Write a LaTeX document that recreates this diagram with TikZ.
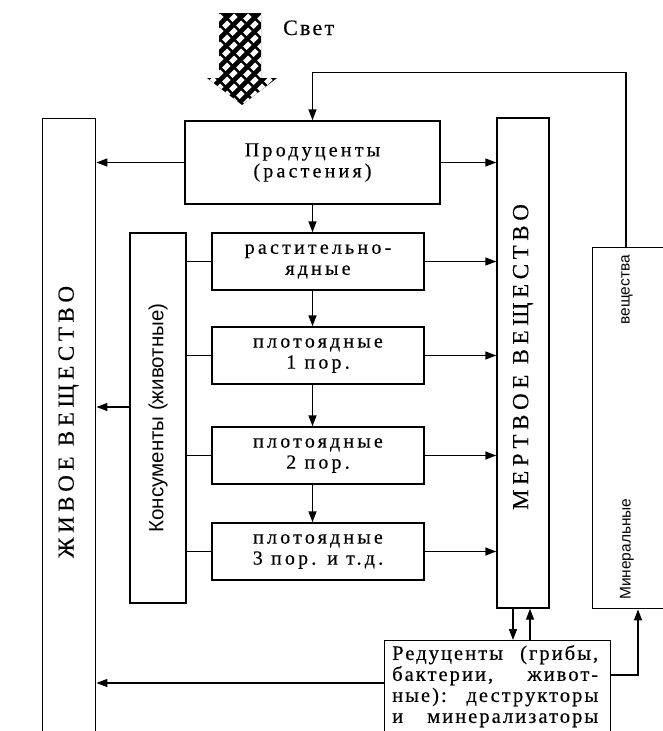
\documentclass[tikz,border=0pt]{standalone}
\usepackage{fontspec}
\setmainfont{Liberation Serif}
\setsansfont{Liberation Sans}
\usetikzlibrary{positioning,arrows.meta,calc}
\newcommand{\boxfont}{\fontsize{20}{21}\selectfont\addfontfeature{LetterSpace=16,FakeBold=0.4}}
\newcommand{\litefont}{\fontsize{22}{22}\selectfont\addfontfeature{LetterSpace=10,FakeBold=0.4}}
\newcommand{\redfont}{\fontsize{20.5}{21}\selectfont\addfontfeature{LetterSpace=10,FakeBold=0.4}}
\newcommand{\capsfont}{\fontsize{23}{23}\selectfont\addfontfeature{LetterSpace=20,FakeBold=0.3}}
\newcommand{\labfont}{\sffamily\fontsize{20.5}{20.5}\selectfont}
\newcommand{\minfont}{\sffamily\fontsize{15.5}{15.5}\selectfont}
\tikzset{
  box/.style   ={draw, line width=1.4pt, inner sep=0pt},
  level/.style ={box, minimum width=212, minimum height=57, align=center, font=\boxfont},
  spaced/.style={inner sep=0pt, font=\capsfont, rotate=90},
  sanslab/.style={inner sep=0pt, font=\labfont, rotate=90},
  minlab/.style={inner sep=0pt, font=\minfont, rotate=90},
  flow/.style  ={line width=1.4pt, -{Triangle[length=11pt,width=8pt]}},
  link/.style  ={line width=1.4pt},
}
\begin{document}
\begin{tikzpicture}[x=1pt,y=-1pt]
\useasboundingbox (0,0) rectangle (663,731);
\clip (0,0) rectangle (663,731);
\fill[white] (0,0) rectangle (663,731);
% light
\begin{scope}
  \clip (219,13) -- (261,13) -- (261,78) -- (277,78) -- (242,105)
        -- (207,78) -- (219,78) -- cycle;
  \fill (200,0) rectangle (290,110);
  \foreach \j in {0,...,14}{
    \foreach \i in {0,...,6}{
      \pgfmathsetmacro\cx{205+14*\i+7*mod(\j,2)}
      \pgfmathsetmacro\cy{18+7*\j}
      \fill[white] (\cx,\cy) ++(1,-4.5) -- ++(3.5,3.5) -- ++(-5,5) -- ++(-3.5,-3.5) -- cycle;
    }
  }
\end{scope}
\node[anchor=base west, inner sep=0pt, font=\litefont] (light) at (283,35) {Свет};
% living matter
\node[box, minimum width=53, minimum height=660, anchor=north west] (zhiv) at (42,118) {};
\node[spaced] (zhivtxt) at (68.5,422) {ЖИВОЕ ВЕЩЕСТВО};
% producers and consumers
\node[box, minimum width=255, minimum height=83, align=center, font=\boxfont] (prod)
  at (312.5,162.5) {Продуценты\\(растения)};
\node[box, minimum width=56, minimum height=370] (kons) at (158,418) {};
\node[sanslab] (konstxt) at (kons.center) {Консументы (животные)};
\node[level] (rast)  at (318,261.5) {растительно-\\ядные};
\node[level] (carn1) at (318,355.5) {плотоядные\\1 пор.};
\node[level] (carn2) at (318,455.5) {плотоядные\\2 пор.};
\node[level] (carn3) at (318,551.5) {плотоядные\\3 пор. и т.д.};
% dead matter
\node[box, minimum width=52, minimum height=490] (dead) at (523,363) {};
\node[spaced] (deadtxt) at (523,357) {МЕРТВОЕ ВЕЩЕСТВО};
% mineral substances
\node[box, anchor=north west, minimum width=120, minimum height=361] (mineral) at (592,247) {};
\node[minlab, anchor=west] (mintxt) at (627,600) {Минеральные};
\node[minlab, anchor=east] (mintxtb) at (627,255) {вещества};
% decomposers
\node[box, anchor=north west, minimum width=226, minimum height=120] (red) at (384,640) {};
\node[anchor=north west, inner sep=0pt, align=left, font=\redfont] (redtxt) at (392,645)
  {\hbox to 206pt{Редуценты\hfill(грибы,}\\
   \hbox to 206pt{бактерии,\hfill живот-}\\
   \hbox to 206pt{ные):\hfill деструкторы}\\
   \hbox to 206pt{и\hfill минерализаторы}};
% connectors
\draw[flow] (prod.west) -- (prod.west -| zhiv.east);
\foreach \t in {prod,rast,carn1,carn2,carn3}
  \draw[flow] (\t.east) -- (\t.east -| dead.west);
\foreach \a/\b in {prod/rast, rast/carn1, carn1/carn2, carn2/carn3}
  \draw[flow] (\a.south -| prod.south) -- (\b.north -| prod.south);
\foreach \t in {rast,carn1,carn2,carn3}
  \draw[link] (\t.west) -- (\t.west -| kons.east);
\coordinate (kw) at ($(kons.west)+(0,-11)$);
\draw[flow] (kw) -- (kw -| zhiv.east);
\coordinate (dd) at ($(dead.south)+(-10,0)$);
\coordinate (du) at ($(dead.south)+(7,0)$);
\draw[flow] (dd) -- (dd |- red.north);
\draw[flow] (du |- red.north) -- (du);
\coordinate (rw) at ($(red.north west)+(0,43)$);
\draw[flow] (rw) -- (rw -| zhiv.east);
\coordinate (re) at ($(red.north east)+(0,35)$);
\coordinate (mb) at ($(mineral.south west)+(46,0)$);
\draw[flow] (re) -| (mb);
\coordinate (mtop) at ($(mineral.north west)+(34,0)$);
\draw[flow] (mtop) |- ($(prod.north)+(0,-48)$) -- (prod.north);
\end{tikzpicture}
\end{document}
